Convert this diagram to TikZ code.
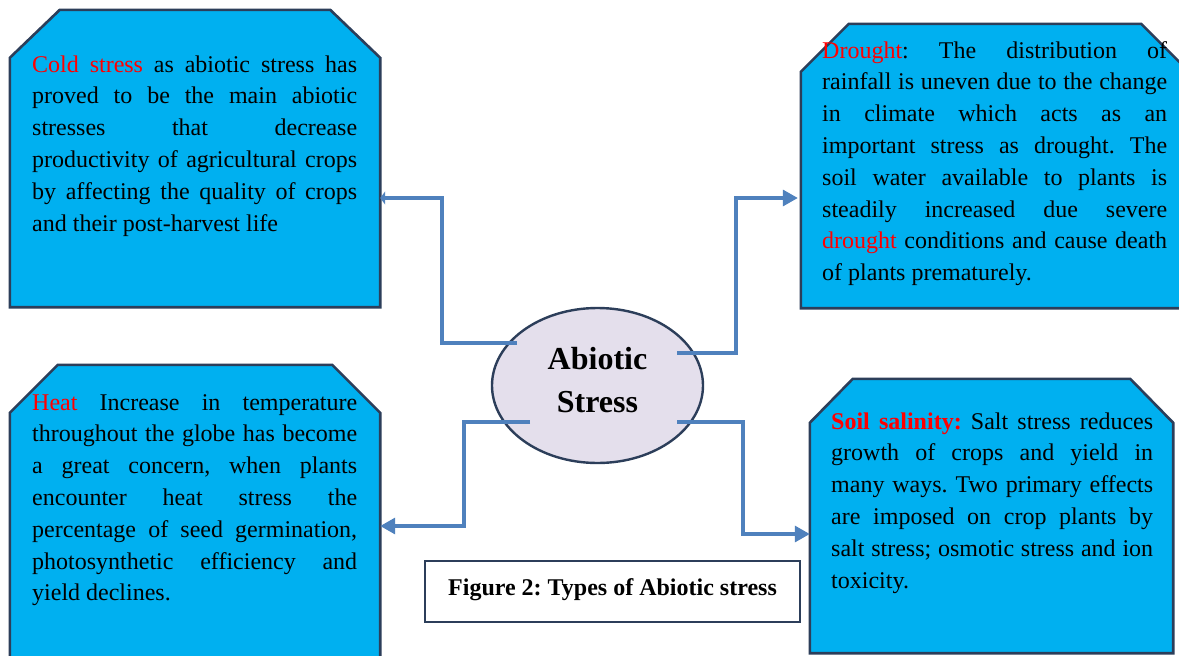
\documentclass[tikz,border=0pt]{standalone}
\usepackage{fontspec}
\setmainfont{Liberation Serif}
\usepackage{xcolor}
\usepackage{tikz}
\usetikzlibrary{shapes.geometric,arrows.meta}
\definecolor{panelfill}{RGB}{0,176,240}
\definecolor{panelrule}{RGB}{44,62,90}
\definecolor{linkblue}{RGB}{79,129,189}
\definecolor{ovalfill}{RGB}{228,223,236}
\definecolor{alert}{RGB}{255,0,0}
\tolerance=10000
\hyphenpenalty=10000
\exhyphenpenalty=10000
\frenchspacing

\begin{document}
\begin{tikzpicture}[x=1pt, y=-1pt,
    panel/.style={rectangle, inner sep=0pt},
    rim/.style={draw=panelrule, fill=panelfill, line width=2.6pt, line join=miter},
    blurb/.style={anchor=base west, inner sep=0pt, align=justify,
        font=\fontsize{24}{31.8}\selectfont},
    oval/.style={ellipse, draw=panelrule, fill=ovalfill, line width=2.4pt,
        minimum width=211pt, minimum height=155pt, inner sep=0pt,
        align=center, text depth=12pt, font=\bfseries\fontsize{32}{43}\selectfont},
    link/.style={draw=linkblue, line width=3.2pt, -{Triangle[length=15pt,width=16pt]}},
    caption/.style={draw=panelrule, line width=2.2pt, minimum width=375pt,
        minimum height=61pt, inner sep=0pt, text height=17pt, text depth=10pt,
        font=\bfseries\fontsize{24}{30}\selectfont}]
    \fill[white] (0,0) rectangle (1179,656);
    \useasboundingbox (0,0) rectangle (1179,656);

    % four stress panels
    \node[panel, minimum width=370pt, minimum height=297pt] (cold) at (195,158.5) {};
    \draw[rim] ([shift={(50,0)}]cold.north west) -- ([shift={(-50,0)}]cold.north east)
        -- ([shift={(0,48)}]cold.north east) -- (cold.south east) -- (cold.south west)
        -- ([shift={(0,48)}]cold.north west) -- cycle;
    \node[panel, minimum width=388pt, minimum height=284pt] (drought) at (995,166) {};
    \draw[rim] ([shift={(48,0)}]drought.north west) -- ([shift={(-48,0)}]drought.north east)
        -- ([shift={(0,48)}]drought.north east) -- (drought.south east) -- (drought.south west)
        -- ([shift={(0,48)}]drought.north west) -- cycle;
    \node[panel, minimum width=370pt, minimum height=335pt] (heat) at (195,532.5) {};
    \draw[rim] ([shift={(48,0)}]heat.north west) -- ([shift={(-48,0)}]heat.north east)
        -- ([shift={(0,48)}]heat.north east) -- (heat.south east) -- (heat.south west)
        -- ([shift={(0,48)}]heat.north west) -- cycle;
    \node[panel, minimum width=363pt, minimum height=274pt] (salinity) at (991.5,516) {};
    \draw[rim] ([shift={(43,0)}]salinity.north west) -- ([shift={(-43,0)}]salinity.north east)
        -- ([shift={(0,44)}]salinity.north east) -- (salinity.south east) -- (salinity.south west)
        -- ([shift={(0,44)}]salinity.north west) -- cycle;

    % panel texts
    \node[blurb, text width=325pt] (coldtxt) at (32,72) {\textcolor{alert}{Cold stress} as abiotic stress has\linebreak
        proved to be the main abiotic\linebreak
        stresses that decrease\linebreak
        productivity of agricultural crops\linebreak
        by affecting the quality of crops\linebreak
        and their post-harvest life};
    \node[blurb, text width=345pt] (droughttxt) at (822,58) {\textcolor{alert}{Drought}: The distribution of\linebreak
        rainfall is uneven due to the change\linebreak
        in climate which acts as an\linebreak
        important stress as drought. The\linebreak
        soil water available to plants is\linebreak
        steadily increased due severe\linebreak
        \textcolor{alert}{drought} conditions and cause death\linebreak
        of plants prematurely.};
    \node[blurb, text width=325pt] (heattxt) at (32,410) {\textcolor{alert}{Heat} Increase in temperature\linebreak
        throughout the globe has become\linebreak
        a great concern, when plants\linebreak
        encounter heat stress the\linebreak
        percentage of seed germination,\linebreak
        photosynthetic efficiency and\linebreak
        yield declines.};
    \node[blurb, text width=322pt] (salttxt) at (831,429) {\textcolor{alert}{\textbf{Soil salinity:}} Salt stress reduces\linebreak
        growth of crops and yield in\linebreak
        many ways. Two primary effects\linebreak
        are imposed on crop plants by\linebreak
        salt stress; osmotic stress and ion\linebreak
        toxicity.};

    % centre and connectors
    \node[oval] (stress) at (597.5,385.5) {Abiotic\\Stress};
    \draw[link, -{Triangle[length=5pt,width=13pt]}] ([shift={(-80.5,-42.5)}]stress.center)
        -- ++(-75,0) |- ([shift={(0,39.5)}]cold.east);
    \draw[link] ([shift={(79.5,-32.5)}]stress.center) -- ++(59,0) |- ([shift={(-3,32)}]drought.west);
    \draw[link] ([shift={(-67.5,36.5)}]stress.center) -- ++(-66,0) |- ([shift={(0,-6.5)}]heat.east);
    \draw[link] ([shift={(79.5,36.5)}]stress.center) -- ++(66,0) |- ([shift={(0,18)}]salinity.west);

    \node[caption] (figcap) at (612.5,591.5) {Figure 2: Types of Abiotic stress};
\end{tikzpicture}
\end{document}
